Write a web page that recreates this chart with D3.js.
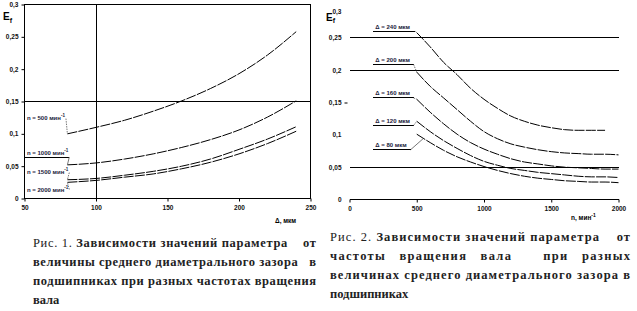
<!DOCTYPE html>
<html lang="ru">
<head>
<meta charset="UTF-8">
<title>Зависимости E_f</title>
<script src="https://d3js.org/d3.v7.min.js"></script>
<style>
  body { margin: 0; background: #fff; }
  .tick text { font-family: "Liberation Sans", Arial, sans-serif; font-size: 6.5px; font-weight: bold; fill: #111; }
  .tick line { stroke: #000; }
  .curve { fill: none; stroke: #000; stroke-width: 1; stroke-dasharray: 10, 1.3; }
  .rule { stroke: #000; stroke-width: 1; shape-rendering: crispEdges; }
  .lead { stroke: #555; stroke-width: 0.8; fill: none; }
  .lbl { font-family: "Liberation Sans", Arial, sans-serif; font-size: 6px; font-weight: bold; fill: #1a1a3a; }
  .ttl { font-family: "Liberation Sans", Arial, sans-serif; font-weight: bold; fill: #000; }
  .cap { font-family: "Liberation Serif", "Times New Roman", serif; font-size: 12.5px; fill: #222; white-space: pre; }
</style>
</head>
<body>
<svg width="637" height="311"></svg>
<script>
// y ticks (both charts)
const yTicks = [0, 0.05, 0.1, 0.15, 0.2, 0.25, 0.3];
const yTickLabels = ["0", "0,05", "0,1", "0,15", "0,2", "0,25", "0,3"];

// Fig. 1: E_f vs mean diametral clearance, for several shaft speeds
const clearance = [80, 100, 120, 140, 160, 180, 200, 220, 240];
const e500  = [0.100, 0.110, 0.121, 0.135, 0.151, 0.170, 0.193, 0.222, 0.258];
const e1000 = [0.052, 0.055, 0.061, 0.069, 0.079, 0.091, 0.106, 0.126, 0.151];
const e1500 = [0.029, 0.031, 0.036, 0.042, 0.050, 0.061, 0.076, 0.092, 0.111];
const e2000 = [0.025, 0.028, 0.033, 0.038, 0.046, 0.056, 0.069, 0.085, 0.104];
const speedNames = ["n = 500 мин", "n = 1000 мин", "n = 1500 мин", "n = 2000 мин"];
const leftTicks = [50, 100, 150, 200, 250];

// Fig. 2: E_f vs shaft speed, for several clearances
const speed = [500, 600, 700, 800, 900, 1000, 1100, 1200, 1300, 1400, 1500, 1600, 1700, 1800, 1900, 2000];
const d240 = [0.258, 0.236, 0.212, 0.193, 0.172, 0.155, 0.141, 0.129, 0.121, 0.115, 0.111, 0.108, 0.107, 0.107, 0.107, null];
const d200 = [0.197, 0.175, 0.157, 0.139, 0.121, 0.105, 0.094, 0.086, 0.081, 0.077, 0.074, 0.072, 0.071, 0.070, 0.070, 0.069];
const d160 = [0.155, 0.135, 0.117, 0.101, 0.088, 0.078, 0.070, 0.063, 0.058, 0.055, 0.052, 0.050, 0.049, 0.048, 0.047, 0.047];
const d120 = [0.121, 0.105, 0.091, 0.079, 0.068, 0.059, 0.053, 0.048, 0.045, 0.042, 0.040, 0.038, 0.036, 0.035, 0.035, 0.034];
const d80  = [0.101, 0.088, 0.076, 0.066, 0.058, 0.051, 0.045, 0.040, 0.036, 0.033, 0.031, 0.029, 0.028, 0.027, 0.027, 0.026];
const clearanceNames = ["Δ = 240 мкм", "Δ = 200 мкм", "Δ = 160 мкм", "Δ = 120 мкм", "Δ = 80 мкм"];
const rightTicks = [0, 500, 1000, 1500, 2000];
const rightGrid = [0, 0.05, 0.2, 0.25];

// captions: [normal part, bold part]
const caption1 = [["Рис. 1. ", "Зависимости значений параметра    от"],
                  ["", "величины среднего диаметрального зазора   в"],
                  ["", "подшипниках при разных частотах вращения"],
                  ["", "вала"]];
const caption2 = [["Рис. 2. ", "Зависимости значений параметра    от"],
                  ["", "частоты   вращения   вала       при   разных"],
                  ["", "величинах среднего диаметрального зазора в"],
                  ["", "подшипниках"]];

const svg = d3.select("svg");
svg.append("rect").attr("width", 637).attr("height", 311).attr("fill", "#fff");
const comma = d => yTickLabels[yTicks.indexOf(d)];

// ---------- left chart ----------
const xL = d3.scaleLinear().domain([50, 250]).range([24.5, 310.5]);
const yL = d3.scaleLinear().domain([0, 0.3]).range([198.5, 4.5]);
const left = svg.append("g");

left.append("g").attr("transform", `translate(${xL(50)},0)`)
  .call(d3.axisLeft(yL).tickValues(yTicks).tickFormat(comma).tickSize(3).tickPadding(3))
  .call(g => g.select(".domain").remove());
left.append("g").attr("transform", `translate(0,${yL(0)})`)
  .call(d3.axisBottom(xL).tickValues(leftTicks).tickFormat(d3.format("d")).tickSize(3).tickPadding(4))
  .call(g => g.select(".domain").remove());

// frame and cross lines
left.append("rect").attr("class", "rule").attr("fill", "none")
  .attr("x", xL(50)).attr("y", yL(0.3)).attr("width", xL(250) - xL(50)).attr("height", yL(0) - yL(0.3));
left.append("line").attr("class", "rule")
  .attr("x1", xL(100)).attr("x2", xL(100)).attr("y1", yL(0.3)).attr("y2", yL(0));
left.append("line").attr("class", "rule")
  .attr("x1", xL(50)).attr("x2", xL(250)).attr("y1", yL(0.15)).attr("y2", yL(0.15));

const lineL = d3.line().x((d, i) => xL(clearance[i])).y(d => yL(d)).curve(d3.curveMonotoneX);
const leftSeries = [e500, e1000, e1500, e2000];
left.selectAll("path.curve").data(leftSeries).join("path")
  .attr("class", "curve").attr("d", lineL);

// speed labels with leaders
const labelBase = [0.122, 0.068, 0.0385, 0.0093];
speedNames.forEach((name, i) => {
  const by = yL(labelBase[i]);
  const t = left.append("text").attr("class", "lbl").attr("x", xL(50) + 2.5).attr("y", by);
  t.append("tspan").text(name);
  t.append("tspan").attr("dy", -3).attr("font-size", "4.5px").text("-1");
  const endX = xL(50) + 2.5 + t.node().getComputedTextLength() + 1;
  const sx = xL(clearance[0]), sy = yL(leftSeries[i][0]);
  if (i === 1) {
    left.append("line").attr("class", "rule").attr("x1", xL(50)).attr("x2", endX)
      .attr("y1", by + 2.5).attr("y2", by + 2.5);
    left.append("line").attr("class", "lead").attr("x1", endX).attr("y1", by + 2.5).attr("x2", sx).attr("y2", sy);
  } else {
    const ly = i === 3 ? by - 3 : by - 1;
    left.append("line").attr("class", "lead").attr("stroke-dasharray", "1.5,1")
      .attr("x1", endX).attr("y1", ly).attr("x2", sx).attr("y2", sy);
  }
});

// titles
const eL = left.append("text").attr("class", "ttl").attr("x", 3).attr("y", 20).attr("font-size", "10px");
eL.append("tspan").text("E");
eL.append("tspan").attr("dy", 3).attr("font-size", "7px").text("f");
left.append("text").attr("class", "ttl").attr("x", 275).attr("y", 223).attr("font-size", "6.5px").text("Δ, мкм");

// ---------- right chart ----------
const xR = d3.scaleLinear().domain([0, 2000]).range([349.5, 618.5]);
const yR = d3.scaleLinear().domain([0, 0.3]).range([199.5, 5.5]);
const right = svg.append("g");

right.append("g").attr("transform", `translate(${xR(0) - 2},0)`)
  .call(d3.axisLeft(yR).tickValues(yTicks).tickFormat(comma).tickSize(3).tickPadding(3))
  .call(g => g.select(".domain").remove())
  .call(g => g.selectAll(".tick").filter(d => d === 0.3).select("text").attr("dy", "8px"))
  .call(g => g.selectAll(".tick").filter(d => rightGrid.includes(d) || d === 0.3 || d === 0.1).select("line").remove());
right.append("g").attr("transform", `translate(0,${yR(0)})`)
  .call(d3.axisBottom(xR).tickValues(rightTicks).tickFormat(d3.format("d")).tickSize(3).tickPadding(4))
  .call(g => g.select(".domain").remove());

right.selectAll("line.grid").data(rightGrid).join("line").attr("class", "rule")
  .attr("x1", xR(0)).attr("x2", xR(2000)).attr("y1", d => yR(d)).attr("y2", d => yR(d));

const lineR = d3.line().defined(d => d != null).x((d, i) => xR(speed[i])).y(d => yR(d)).curve(d3.curveMonotoneX);
const rightSeries = [d240, d200, d160, d120, d80];
right.selectAll("path.curve").data(rightSeries).join("path")
  .attr("class", "curve").attr("d", lineR);

// clearance labels
const underE = [0.260, 0.209, 0.157, 0.1144, 0.0769];
const underEnd = [490, 476, 476, 476, 454];
clearanceNames.forEach((name, i) => {
  const uy = yR(underE[i]);
  right.append("text").attr("class", "lbl").attr("x", xR(192)).attr("y", uy - 2.5).text(name);
  right.append("line").attr("class", "rule").attr("x1", xR(178)).attr("x2", xR(underEnd[i]))
    .attr("y1", uy).attr("y2", uy);
  const tx = i === 4 ? xR(550) : xR(speed[0]);
  const ty = i === 4 ? yR((d80[0] + d80[1]) / 2) : yR(rightSeries[i][0]);
  right.append("line").attr("class", "lead").attr("stroke-dasharray", i === 4 ? "none" : "1.5,1")
    .attr("stroke", i === 4 ? "#999" : "#555")
    .attr("x1", xR(underEnd[i])).attr("y1", uy).attr("x2", tx).attr("y2", ty);
});

const eR = right.append("text").attr("class", "ttl").attr("x", 326).attr("y", 21).attr("font-size", "10px");
eR.append("tspan").text("E");
eR.append("tspan").attr("dy", 2).attr("font-size", "7px").text("f");
const nT = right.append("text").attr("class", "ttl").attr("x", 571).attr("y", 220).attr("font-size", "6.5px");
nT.append("tspan").text("n, мин");
nT.append("tspan").attr("dy", -3).attr("font-size", "5px").text("-1");

// ---------- captions ----------
function caption(lines, x0, x1, y0) {
  lines.forEach((ln, i) => {
    const t = svg.append("text").attr("class", "cap").attr("x", x0).attr("y", y0 + i * 19);
    if (ln[0]) t.append("tspan").text(ln[0]);
    t.append("tspan").attr("font-weight", "bold").text(ln[1]);
    if (i < lines.length - 1) t.attr("textLength", x1 - x0).attr("lengthAdjust", "spacing");
  });
}
caption(caption1, 33, 316, 247);
caption(caption2, 330, 630, 241);
</script>
</body>
</html>
